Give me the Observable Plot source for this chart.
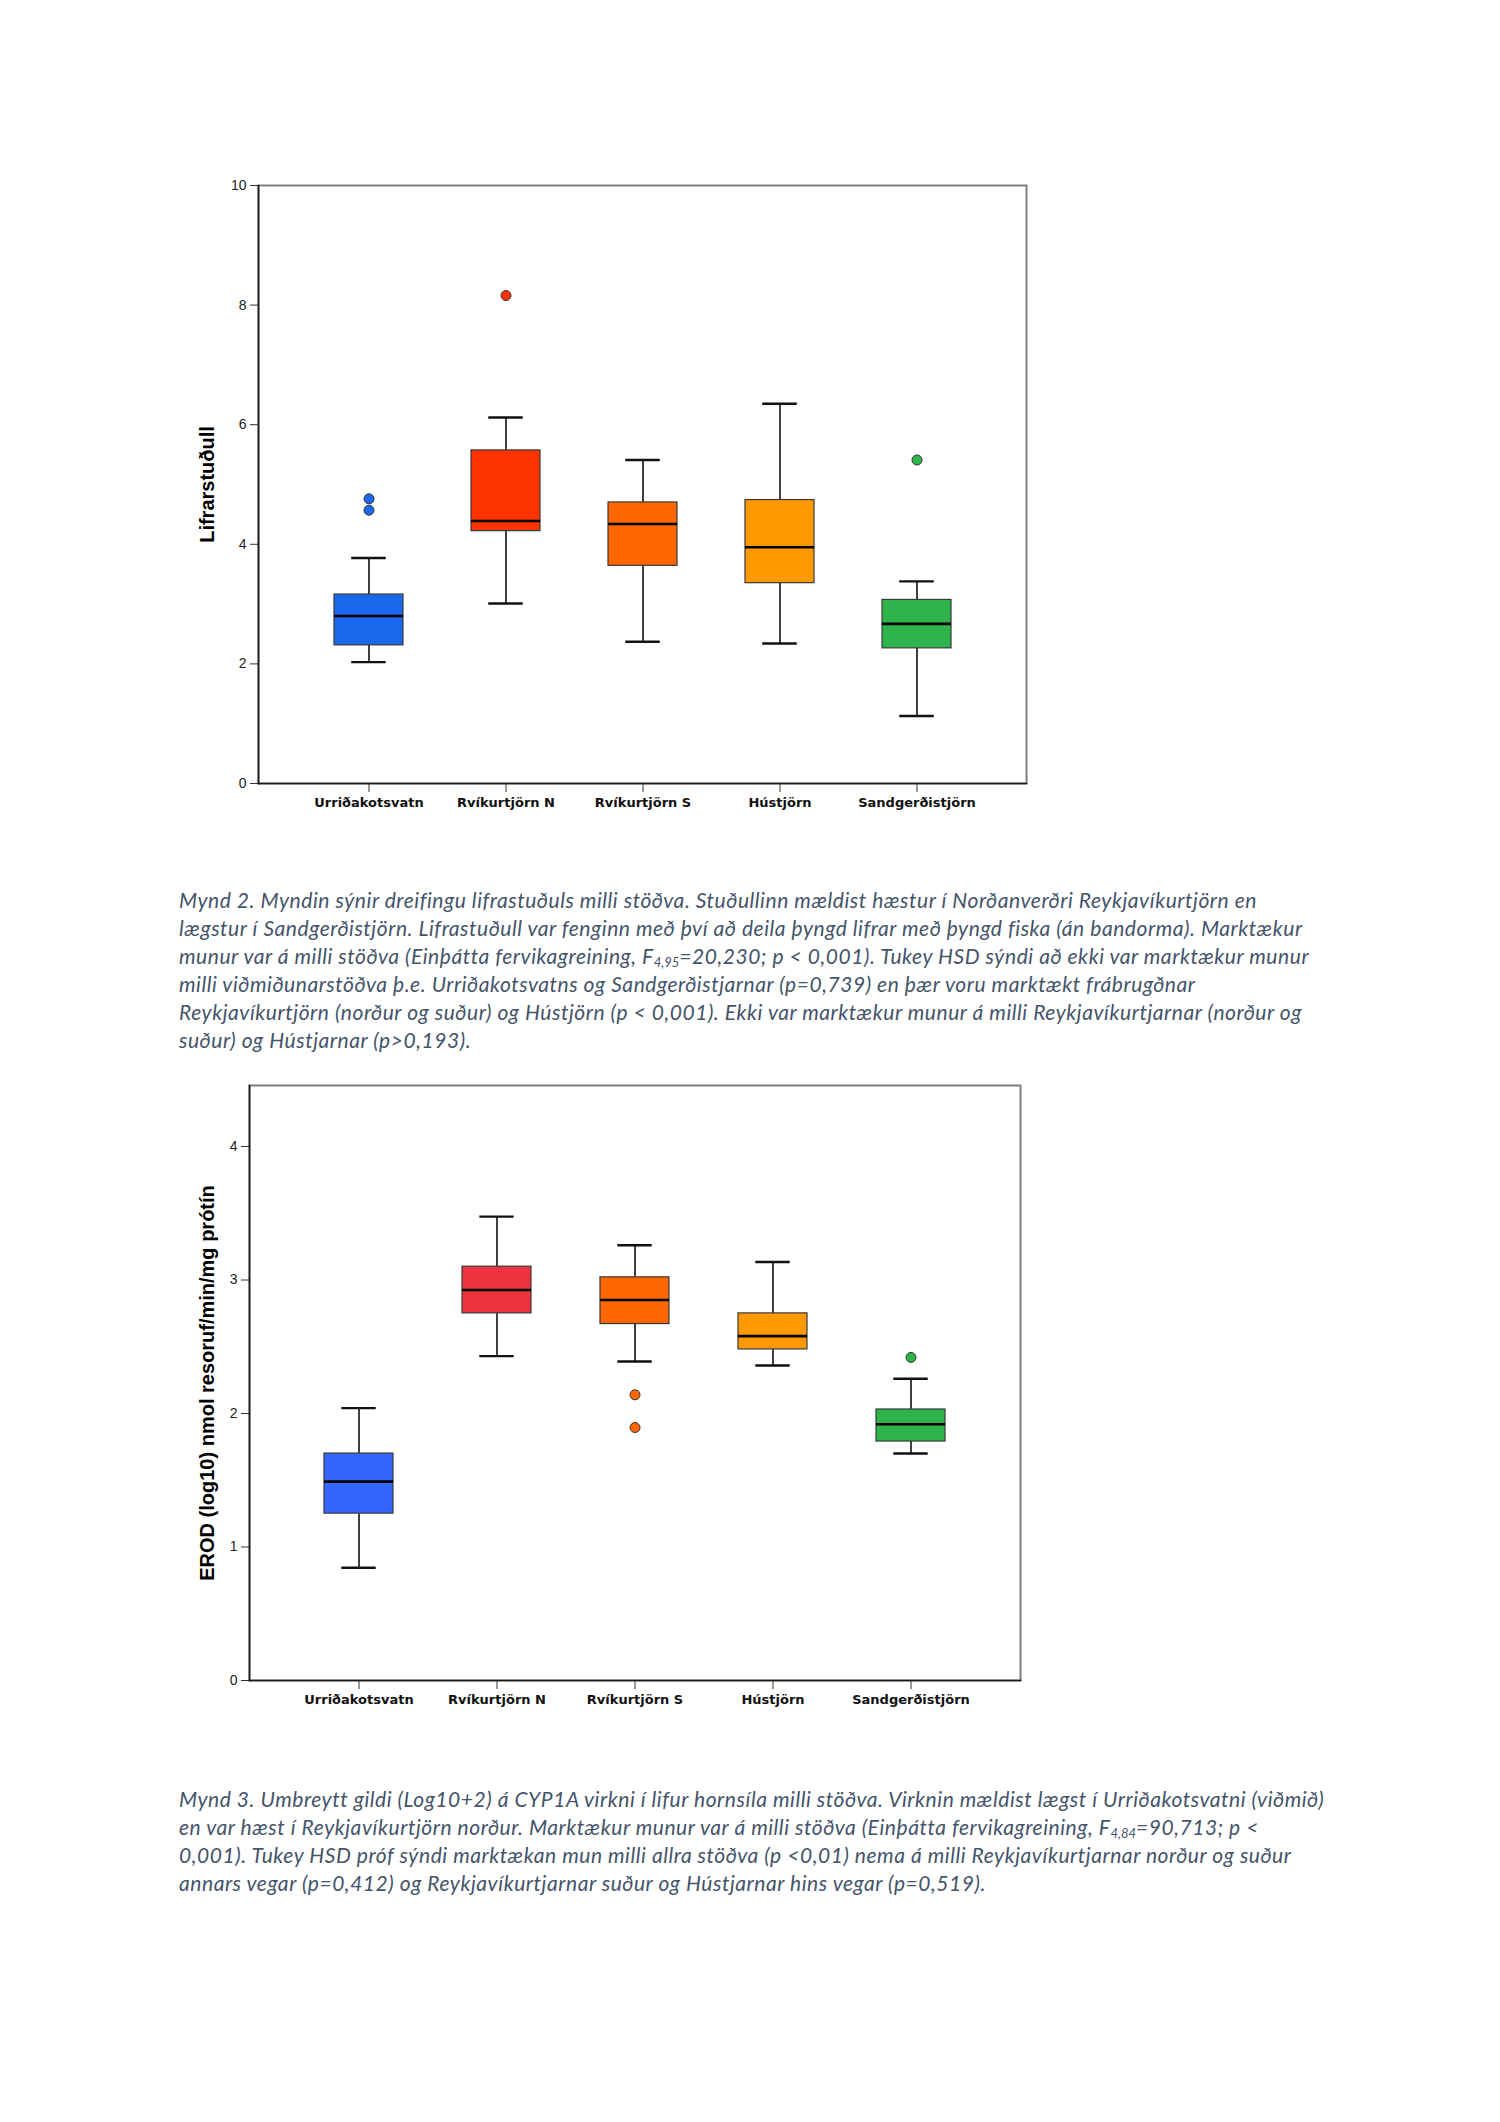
<!DOCTYPE html>
<html>
<head>
<meta charset="utf-8">
<script src="https://cdn.jsdelivr.net/npm/d3@7"></script>
<script src="https://cdn.jsdelivr.net/npm/@observablehq/plot@0.6"></script>
<style>
  html, body { margin: 0; padding: 0; background: #fff; }
  body { position: relative; width: 1500px; height: 2122px; overflow: hidden; }
  .chart { position: absolute; left: 0; }
  .caption { position: absolute; left: 179px; font-family: Lato, "Open Sans", sans-serif; font-style: italic;
             font-size: 21px; letter-spacing: 0.55px; line-height: 27.9px; color: #44546a; }
  .caption div { white-space: nowrap; }
  .caption sub { font-size: 0.62em; vertical-align: -0.25em; line-height: 0; letter-spacing: 0; }
</style>
</head>
<body>
<div id="chart1" class="chart" style="top:0px"></div>
<div id="cap1" class="caption" style="top:886px">
  <div>Mynd 2. Myndin sýnir dreifingu lifrastuðuls milli stöðva. Stuðullinn mældist hæstur í Norðanverðri Reykjavíkurtjörn en</div>
  <div>lægstur í Sandgerðistjörn. Lifrastuðull var fenginn með því að deila þyngd lifrar með þyngd fiska (án bandorma). Marktækur</div>
  <div>munur var á milli stöðva (Einþátta fervikagreining, F<sub>4,95</sub>=20,230; p &lt; 0,001). Tukey HSD sýndi að ekki var marktækur munur</div>
  <div>milli viðmiðunarstöðva þ.e. Urriðakotsvatns og Sandgerðistjarnar (p=0,739) en þær voru marktækt frábrugðnar</div>
  <div>Reykjavíkurtjörn (norður og suður) og Hústjörn (p &lt; 0,001). Ekki var marktækur munur á milli Reykjavíkurtjarnar (norður og</div>
  <div>suður) og Hústjarnar (p&gt;0,193).</div>
</div>
<div id="chart2" class="chart" style="top:1000px"></div>
<div id="cap2" class="caption" style="top:1785px">
  <div>Mynd 3. Umbreytt gildi (Log10+2) á CYP1A virkni í lifur hornsíla milli stöðva. Virknin mældist lægst í Urriðakotsvatni (viðmið)</div>
  <div>en var hæst í Reykjavíkurtjörn norður. Marktækur munur var á milli stöðva (Einþátta fervikagreining, F<sub>4,84</sub>=90,713; p &lt;</div>
  <div>0,001). Tukey HSD próf sýndi marktækan mun milli allra stöðva (p &lt;0,01) nema á milli Reykjavíkurtjarnar norður og suður</div>
  <div>annars vegar (p=0,412) og Reykjavíkurtjarnar suður og Hústjarnar hins vegar (p=0,519).</div>
</div>
<script>
// ---------- Data ----------
const stations = ["Urriðakotsvatn", "Rvíkurtjörn N", "Rvíkurtjörn S", "Hústjörn", "Sandgerðistjörn"];

// Chart 1: Lifrarstuðull
const lifLabel = "Lifrarstuðull";
const lifWhiskerLow  = [2.03, 3.01, 2.37, 2.34, 1.13];
const lifQ1          = [2.31, 4.22, 3.64, 3.35, 2.26];
const lifMedian      = [2.80, 4.39, 4.34, 3.95, 2.67];
const lifQ3          = [3.16, 5.57, 4.70, 4.74, 3.07];
const lifWhiskerHigh = [3.77, 6.12, 5.41, 6.35, 3.38];
const lifOutlierStation = ["Urriðakotsvatn", "Urriðakotsvatn", "Rvíkurtjörn N", "Sandgerðistjörn"];
const lifOutlierValue   = [4.76, 4.57, 8.16, 5.41];
const lifTicks = [0, 2, 4, 6, 8, 10];
const lifColors = ["#1a68ee", "#ff3300", "#ff6600", "#ff9900", "#2eb44b"];

// Chart 2: EROD
const erodLabel = "EROD (log10) nmol resoruf/min/mg prótín";
const erodWhiskerLow  = [0.845, 2.43, 2.39, 2.36, 1.70];
const erodQ1          = [1.25, 2.75, 2.67, 2.48, 1.79];
const erodMedian      = [1.49, 2.925, 2.85, 2.58, 1.92];
const erodQ3          = [1.70, 3.10, 3.02, 2.75, 2.03];
const erodWhiskerHigh = [2.04, 3.475, 3.26, 3.135, 2.26];
const erodOutlierStation = ["Rvíkurtjörn S", "Rvíkurtjörn S", "Sandgerðistjörn"];
const erodOutlierValue   = [2.14, 1.895, 2.42];
const erodTicks = [0, 1, 2, 3, 4];
const erodColors = ["#3366ff", "#ee3340", "#ff6600", "#ff9900", "#2eb44b"];

// ---------- Drawing ----------
function boxChart(cfg) {
  const rows = stations.map((s, i) => ({
    station: s, wl: cfg.wl[i], q1: cfg.q1[i], med: cfg.med[i], q3: cfg.q3[i], wh: cfg.wh[i]
  }));
  const outliers = cfg.outStation.map((s, i) => ({station: s, value: cfg.outValue[i]}));
  const plotW = 1500 - cfg.marginLeft - cfg.marginRight;
  const pIn = 0.5, pOut = 0.533;
  const step = plotW / (stations.length - pIn + 2 * pOut);
  const bw = step * (1 - pIn);
  const capInset = bw / 4;
  return Plot.plot({
    width: 1500,
    height: cfg.height,
    marginTop: cfg.marginTop,
    marginBottom: cfg.marginBottom,
    marginLeft: cfg.marginLeft,
    marginRight: cfg.marginRight,
    style: {fontFamily: "'Liberation Sans', Arial, sans-serif", color: "#222", background: "transparent", overflow: "visible"},
    x: {domain: stations, paddingInner: pIn, paddingOuter: pOut, label: null},
    y: {domain: cfg.ydomain, label: null},
    color: {domain: stations, range: cfg.colors},
    marks: [
      Plot.frame({stroke: "#7f7f7f", strokeWidth: 2}),
      Plot.ruleX(rows, {x: "station", y1: "wl", y2: "q1", stroke: "#111", strokeWidth: 1.6}),
      Plot.ruleX(rows, {x: "station", y1: "q3", y2: "wh", stroke: "#111", strokeWidth: 1.6}),
      Plot.tickY(rows, {x: "station", y: "wl", insetLeft: capInset, insetRight: capInset, stroke: "#111", strokeWidth: 2.4}),
      Plot.tickY(rows, {x: "station", y: "wh", insetLeft: capInset, insetRight: capInset, stroke: "#111", strokeWidth: 2.4}),
      Plot.barY(rows, {x: "station", y1: "q1", y2: "q3", fill: "station", stroke: "#3a3a3a", strokeWidth: 1.2}),
      Plot.tickY(rows, {x: "station", y: "med", stroke: "#000", strokeWidth: 2.6}),
      Plot.dot(outliers, {x: "station", y: "value", r: 5, fill: "station", stroke: "#333", strokeWidth: 1}),
      Plot.axisY({ticks: cfg.yticks, tickFormat: d => String(d), tickSize: 8, tickPadding: 4, fontSize: 14, fontFamily: "'Liberation Sans Narrow', 'Liberation Sans', Arial, sans-serif", stroke: "#333", fill: "#222", label: null}),
      Plot.axisX({tickSize: 9, tickPadding: 5, fontSize: 13, fontWeight: "bold", fontFamily: "'DejaVu Sans', Verdana, sans-serif", stroke: "#333", fill: "#111", label: null}),
      Plot.frame({anchor: "left", stroke: "#1a1a1a", strokeWidth: 1.6}),
      Plot.frame({anchor: "bottom", stroke: "#1a1a1a", strokeWidth: 1.6}),
      Plot.text([cfg.ylabel], {frameAnchor: "left", textAnchor: "middle", rotate: -90, dx: -(cfg.labelOffset), fontSize: 20, fontWeight: "bold", fill: "#000"})
    ]
  });
}

document.getElementById("chart1").append(boxChart({
  height: 840, marginTop: 185, marginBottom: 57, marginLeft: 258, marginRight: 474,
  wl: lifWhiskerLow, q1: lifQ1, med: lifMedian, q3: lifQ3, wh: lifWhiskerHigh,
  outStation: lifOutlierStation, outValue: lifOutlierValue,
  ydomain: [0, 10], yticks: lifTicks, colors: lifColors, ylabel: lifLabel, labelOffset: 51
}));

document.getElementById("chart2").append(boxChart({
  height: 740, marginTop: 85, marginBottom: 60, marginLeft: 249, marginRight: 480,
  wl: erodWhiskerLow, q1: erodQ1, med: erodMedian, q3: erodQ3, wh: erodWhiskerHigh,
  outStation: erodOutlierStation, outValue: erodOutlierValue,
  ydomain: [0, 4.457], yticks: erodTicks, colors: erodColors, ylabel: erodLabel, labelOffset: 42
}));
</script>
</body>
</html>
